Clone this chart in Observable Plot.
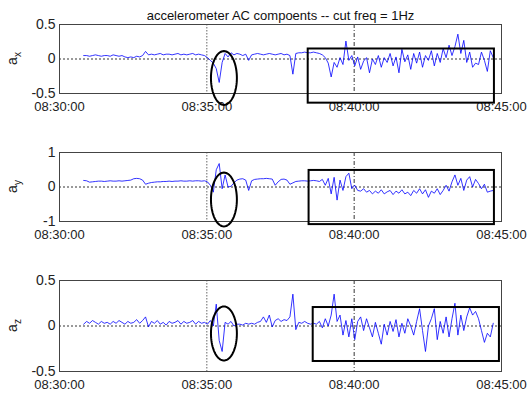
<!DOCTYPE html>
<html>
<head>
<meta charset="utf-8">
<script src="https://cdn.jsdelivr.net/npm/d3@7"></script>
<script src="https://cdn.jsdelivr.net/npm/@observablehq/plot@0.6"></script>
<style>
  html, body { margin: 0; padding: 0; background: #fff; }
  #chart { position: relative; width: 527px; height: 394px; overflow: hidden; }
  #chart svg { position: absolute; left: 0; }
</style>
</head>
<body>
<div id="chart"></div>
<script>
// ---- data (minutes after 08:30:00; sampled every 0.1 min from 0.82 min) ----
const titleText = "accelerometer AC compoents -- cut freq = 1Hz";
const sampleStartMin = 0.82;
const sampleStepMin = 0.1;
const xTickMinutes = [0, 5, 10, 15];

const ax = [
  0.05, 0.05, 0.04, 0.05, 0.06, 0.05, 0.04, 0.05, 0.05, 0.04, 0.06, 0.05, 0.04, 0.05, 0.03, 0.02, 0.03, 0.02, 0.04, 0.03, 0.05,
  0.11, 0.06,
  0.07, 0.06, 0.07, 0.08, 0.06, 0.07, 0.07, 0.06, 0.07, 0.08, 0.06, 0.07, 0.06, 0.07, 0.08, 0.06, 0.07, 0.06, 0.05,
  0.02, -0.02, -0.06, -0.14, -0.34, -0.05, 0.08, 0.03, 0.09, 0.06, 0.08,
  0.07, 0.05, 0.07, -0.02, 0.06, 0.07, 0.08, 0.07, 0.06, 0.07, 0.08, 0.07, 0.06, 0.07, 0.08, 0.06, 0.07,
  0.05, -0.22, 0.08, 0.09, 0.09, 0.10, 0.09, 0.09, 0.10, 0.09,
  0.08, 0.06, 0.02, -0.06, -0.26, -0.05, -0.12, 0.02, -0.08, 0.26, -0.02, 0.05, -0.10, 0.03, -0.15, -0.03, 0.02, -0.20, 0.00, -0.08,
  0.05, -0.12, 0.02, -0.05, 0.08, -0.10, 0.03, -0.20, 0.14, -0.04, 0.06, -0.15, 0.08, -0.06, 0.10, -0.12, 0.05, -0.02, 0.12, -0.10,
  0.08, -0.05, 0.15, 0.02, 0.20, 0.05, 0.18, 0.36, 0.08, 0.27, -0.05, 0.10, -0.12, -0.06, -0.08, 0.10, -0.02, -0.18, 0.12, 0.02
];

const ay = [
  0.19, 0.18, 0.14, 0.15, 0.16, 0.17, 0.17, 0.16, 0.17, 0.18, 0.17, 0.17, 0.18, 0.17, 0.18, 0.19, 0.20,
  0.24, 0.25, 0.24, 0.20,
  0.08, 0.11,
  0.13, 0.14, 0.15, 0.15, 0.16, 0.16, 0.17, 0.16, 0.17, 0.17, 0.18, 0.17, 0.17, 0.18, 0.17, 0.18, 0.18, 0.17, 0.18,
  0.15, 0.05, -0.15, 0.50, 0.68, -0.05, 0.35, 0.00, 0.02, 0.12, 0.20,
  0.23, 0.24, 0.20, -0.10, 0.18, 0.22, 0.23, 0.24, 0.24, 0.25, 0.24, 0.23, 0.05, 0.15, 0.22, 0.23, 0.20,
  0.08, 0.12, 0.16, 0.17, 0.18, 0.18, 0.17, 0.18, 0.19, 0.18,
  0.16, 0.22, 0.05, 0.25, -0.20, 0.28, -0.38, 0.20, -0.10, 0.30, 0.40, -0.05, 0.05, -0.10, -0.12, -0.05, -0.15, -0.10, -0.20, -0.12,
  -0.18, -0.08, -0.20, -0.14, -0.10, -0.22, -0.12, -0.18, -0.08, -0.20, -0.15, -0.25, -0.10, -0.18, -0.05, -0.20, -0.08, -0.30, -0.12, -0.18,
  -0.05, -0.22, -0.10, 0.05, -0.12, 0.15, 0.35, 0.05, 0.25, -0.10, 0.20, 0.30, 0.00, 0.22, 0.10, -0.05, 0.08, -0.15, -0.12, -0.10
];

const az = [
  0.02, 0.05, 0.03, 0.06, 0.04, 0.02, 0.05, 0.03, 0.04, 0.02, 0.05, 0.03, 0.06, 0.04, 0.02, 0.05, 0.03, 0.04, 0.07, 0.03, 0.06,
  0.10, -0.01,
  0.05, 0.03, 0.06, 0.02, 0.04, 0.01, 0.05, 0.03, 0.04, 0.06, 0.02, 0.05, 0.03, 0.04, 0.06, 0.02, 0.05, 0.03, 0.04,
  0.02, 0.06, 0.00, 0.24, -0.16, -0.28, 0.04, 0.02, 0.05, 0.00, 0.02,
  0.02, 0.01, 0.03, 0.02, 0.03, 0.02, 0.04, 0.05, 0.10, 0.04, 0.12, -0.01, 0.06, 0.08, 0.05, 0.07, 0.06,
  0.10, 0.35, -0.04, 0.04, 0.03, 0.05, 0.03, 0.02, 0.03, 0.02,
  0.05, -0.02, 0.08, 0.00, 0.12, 0.35, 0.05, 0.12, -0.10, 0.06, -0.12, 0.08, -0.15, 0.05, 0.10, -0.05, 0.08, -0.02, -0.12, 0.04,
  -0.08, -0.20, 0.02, -0.10, 0.05, -0.06, 0.07, -0.12, 0.03, -0.08, 0.08, 0.00, -0.10, 0.05, 0.19, -0.05, -0.28, 0.00, 0.08, 0.19,
  -0.15, 0.05, -0.08, 0.10, -0.12, 0.08, 0.25, -0.10, 0.12, -0.05, 0.10, 0.20, 0.12, 0.16, 0.08, -0.05, -0.18, -0.08, -0.12, 0.03
];

// annotation shapes (in data units: minutes, value)
const ellipses = [
  {cx: 5.58, cy: -0.275, rx: 0.44, ry: 0.39},
  {cx: 5.58, cy: -0.362, rx: 0.44, ry: 0.78},
  {cx: 5.58, cy: -0.082, rx: 0.44, ry: 0.297}
];
const boxes = [
  {x1: 8.44, x2: 14.76, y1: 0.145, y2: -0.64},
  {x1: 8.47, x2: 14.76, y1: 0.48, y2: -1.09},
  {x1: 8.61, x2: 14.93, y1: 0.203, y2: -0.39}
];

// ---- drawing ----
const base = Date.UTC(2000, 0, 1, 8, 30, 0);
const toDate = m => new Date(base + m * 60000);
const fmt = d3.utcFormat("%H:%M:%S");

function ellipsePoints(e) {
  return d3.range(0, 73).map(k => {
    const a = (k / 72) * 2 * Math.PI;
    return {t: toDate(e.cx + e.rx * Math.cos(a)), v: e.cy + e.ry * Math.sin(a)};
  });
}

function panel({values, yDomain, yTicks, sub, ell, box, top, height, mt, mb, title}) {
  const data = values.map((v, i) => ({t: toDate(sampleStartMin + i * sampleStepMin), v}));
  const marks = [
    Plot.ruleY([0], {stroke: "#000", strokeWidth: 0.8, strokeDasharray: "2,2"}),
    Plot.ruleX([toDate(5)], {stroke: "#666", strokeWidth: 1, strokeDasharray: "1.5,1.5"}),
    Plot.ruleX([toDate(10)], {stroke: "#000", strokeWidth: 0.8, strokeDasharray: "4,2,1,2"}),
    Plot.line(data, {x: "t", y: "v", stroke: "#0000ff", strokeWidth: 0.8}),
    Plot.frame({stroke: "#444", strokeWidth: 1}),
    Plot.axisX({ticks: xTickMinutes.map(toDate), tickFormat: fmt, tickSize: 0, tickPadding: 8, label: null, fill: "#222", fontSize: 13}),
    Plot.axisY({ticks: yTicks, tickFormat: d => String(d), tickSize: 0, tickPadding: 4, label: null, fill: "#222", fontSize: 14}),
    Plot.rect([box], {x1: d => toDate(d.x1), x2: d => toDate(d.x2), y1: "y1", y2: "y2", fill: "none", stroke: "#000", strokeWidth: 2}),
    Plot.line(ellipsePoints(ell), {x: "t", y: "v", stroke: "#000", strokeWidth: 2})
  ];
  if (title) marks.push(Plot.text([title], {frameAnchor: "top", dy: -14, fontSize: 13, fill: "#111"}));
  const svg = Plot.plot({
    width: 527, height,
    marginTop: mt, marginBottom: mb, marginLeft: 59, marginRight: 26,
    style: {fontFamily: "'Liberation Sans', Arial, sans-serif", fontSize: "13px", background: "transparent", overflow: "visible"},
    x: {type: "utc", domain: [toDate(0), toDate(15)]},
    y: {domain: yDomain},
    marks
  });
  svg.style.top = top + "px";
  // y label with subscript
  const yr = svg.scale("y").range;
  const mid = (yr[0] + yr[1]) / 2;
  const t = d3.select(svg).append("text")
    .attr("transform", `translate(17, ${mid}) rotate(-90)`)
    .attr("text-anchor", "middle")
    .attr("fill", "#222")
    .attr("font-family", "'Liberation Sans', Arial, sans-serif")
    .attr("font-size", 14);
  t.append("tspan").text("a");
  t.append("tspan").attr("font-size", 10).attr("dy", 4).text(sub);
  document.getElementById("chart").appendChild(svg);
}

panel({values: ax, yDomain: [-0.5, 0.5], yTicks: [-0.5, 0, 0.5], sub: "x", ell: ellipses[0], box: boxes[0], top: 0, height: 130, mt: 24, mb: 37, title: titleText});
panel({values: ay, yDomain: [-1, 1], yTicks: [-1, 0, 1], sub: "y", ell: ellipses[1], box: boxes[1], top: 130, height: 130, mt: 22, mb: 39});
panel({values: az, yDomain: [-0.5, 0.5], yTicks: [-0.5, 0, 0.5], sub: "z", ell: ellipses[2], box: boxes[2], top: 260, height: 134, mt: 20, mb: 23});
</script>
</body>
</html>
